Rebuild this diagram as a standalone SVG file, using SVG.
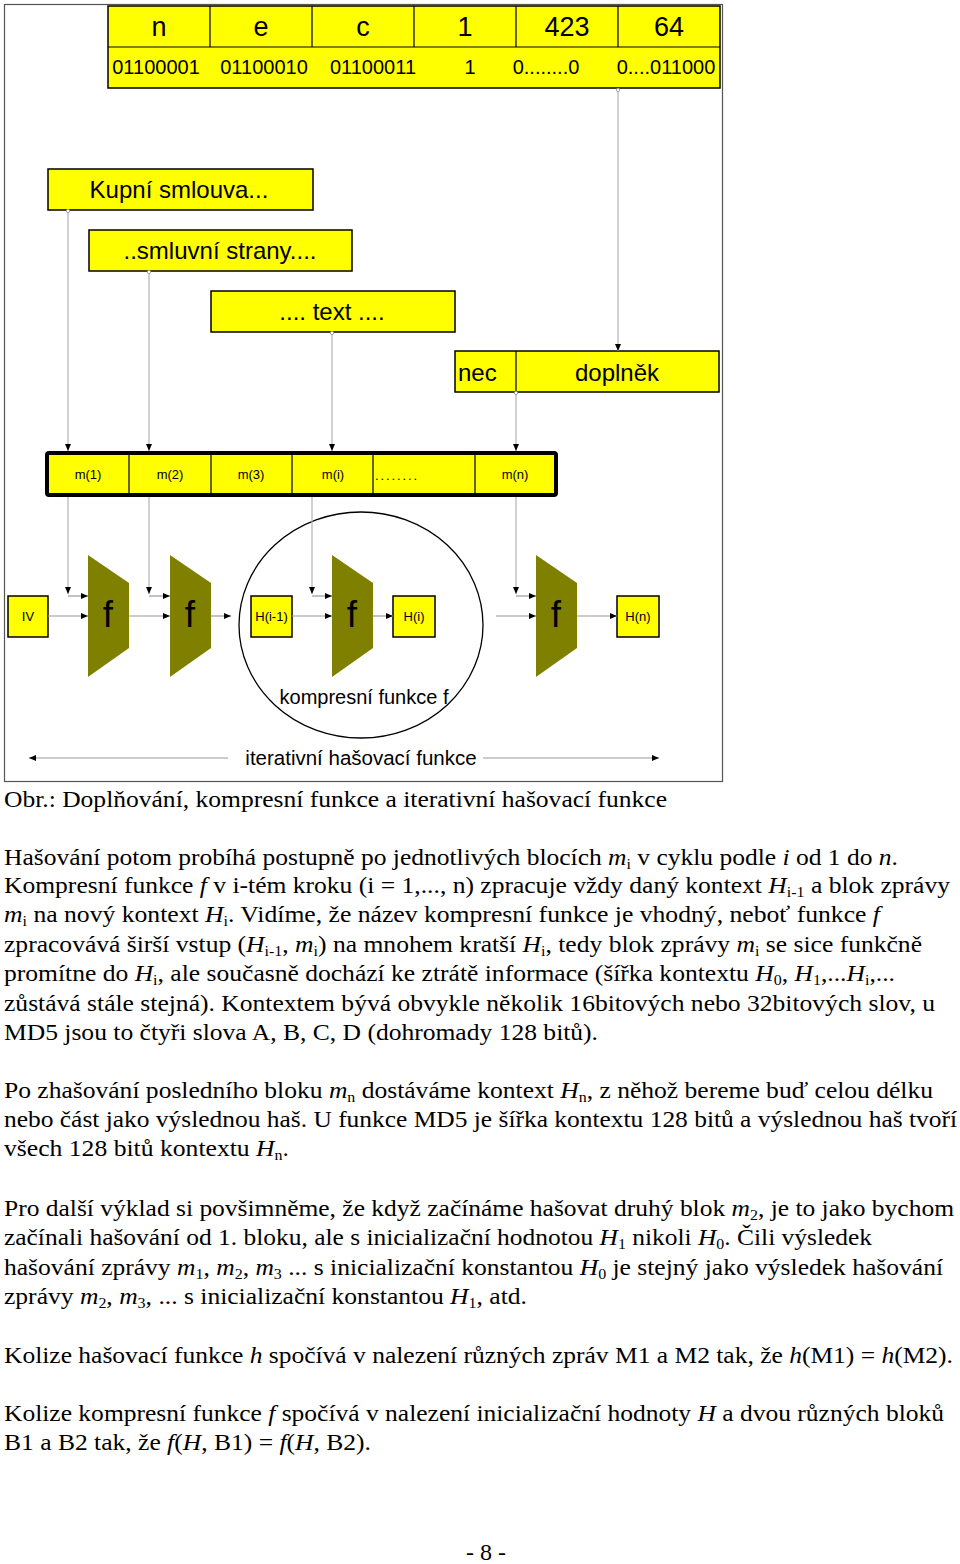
<svg xmlns="http://www.w3.org/2000/svg" width="960" height="1564" viewBox="0 0 960 1564">
<style>
.sans{font-family:"Liberation Sans",Arial,sans-serif;fill:#000}
.serif{font-family:"Liberation Serif","Times New Roman",serif;font-size:24px;fill:#000}
.i{font-style:italic}
.s{font-size:15px}
.box{fill:#ffff00;stroke:#000;stroke-width:1.5}
.div{stroke:#000;stroke-width:1.2}
.trap{fill:#808000}
.con{fill:none;stroke:#b3b3b3;stroke-width:1.2}
.flow{fill:none;stroke:#999;stroke-width:1.2}
.c24{font-size:24px}
.c13{font-size:13px}
.mid{text-anchor:middle}
</style>
<defs>
<marker id="ah" viewBox="0 0 7 6" refX="7" refY="3" markerWidth="7" markerHeight="6" markerUnits="userSpaceOnUse" orient="auto"><path d="M0,0 L7,3 L0,6 z" fill="#000"/></marker>
<marker id="dot" viewBox="0 0 6 6" refX="3" refY="3" markerWidth="5" markerHeight="5" markerUnits="userSpaceOnUse"><circle cx="3" cy="3" r="2" fill="#fff" stroke="#999" stroke-width="1"/></marker>
</defs>
<rect id="frame" x="4.5" y="4.5" width="718" height="777" fill="none" stroke="#555" stroke-width="1.2"/>

<g id="msg-table">
<rect class="box" x="108" y="6" width="612" height="82"/>
<line class="div" x1="108" y1="47" x2="720" y2="47"/>
<line class="div" x1="210" y1="6" x2="210" y2="47"/>
<line class="div" x1="312" y1="6" x2="312" y2="47"/>
<line class="div" x1="414" y1="6" x2="414" y2="47"/>
<line class="div" x1="516" y1="6" x2="516" y2="47"/>
<line class="div" x1="618" y1="6" x2="618" y2="47"/>
<g class="sans mid" font-size="27">
<text x="159" y="36">n</text><text x="261" y="36">e</text><text x="363" y="36">c</text><text x="465" y="36">1</text><text x="567" y="36">423</text><text x="669" y="36">64</text>
</g>
<g class="sans mid" font-size="20">
<text x="156" y="74">01100001</text><text x="264" y="74">01100010</text><text x="373" y="74">01100011</text><text x="470" y="74">1</text><text x="546" y="74">0........0</text><text x="666" y="74">0....011000</text>
</g>
</g>

<g id="kupni"><rect class="box" x="48" y="169" width="265" height="41"/><text class="sans c24 mid" x="179" y="198">Kupní smlouva...</text></g>
<g id="smluvni"><rect class="box" x="89" y="230" width="263" height="41"/><text class="sans c24 mid" x="220" y="259">..smluvní strany....</text></g>
<g id="text"><rect class="box" x="211" y="291" width="244" height="41"/><text class="sans c24 mid" x="332" y="320">.... text ....</text></g>
<g id="padding"><rect class="box" x="455" y="351" width="264" height="41"/><line class="div" x1="516" y1="351" x2="516" y2="392"/><text class="sans c24" x="458" y="381">nec</text><text class="sans c24 mid" x="617" y="381">doplněk</text></g>

<g id="blocks">
<rect x="47" y="453" width="509" height="42" fill="#ffff00" stroke="#000" stroke-width="4" rx="2"/>
<line class="div" x1="129" y1="455" x2="129" y2="493"/>
<line class="div" x1="211" y1="455" x2="211" y2="493"/>
<line class="div" x1="292" y1="455" x2="292" y2="493"/>
<line class="div" x1="373" y1="455" x2="373" y2="493"/>
<line class="div" x1="475" y1="455" x2="475" y2="493"/>
<g class="sans c13 mid">
<text x="88" y="479">m(1)</text><text x="170" y="479">m(2)</text><text x="251" y="479">m(3)</text><text x="333" y="479">m(i)</text><text x="515" y="479">m(n)</text>
</g>
<text class="sans c13" x="375" y="480" textLength="42" lengthAdjust="spacing">........</text>
</g>

<g id="iv"><rect class="box" x="8" y="596" width="40" height="41"/><text class="sans c13 mid" x="28" y="621">IV</text></g>
<g id="f1"><polygon class="trap" points="88,555 129,583 129,648 88,677"/><text class="sans mid" font-size="37" x="108" y="627">f</text></g>
<g id="f2"><polygon class="trap" points="170,555 211,583 211,648 170,677"/><text class="sans mid" font-size="37" x="190" y="627">f</text></g>
<g id="h-prev"><rect class="box" x="251" y="596" width="41" height="41"/><text class="sans c13 mid" x="271.5" y="621">H(i-1)</text></g>
<g id="f3"><polygon class="trap" points="332,555 373,583 373,648 332,677"/><text class="sans mid" font-size="37" x="352" y="627">f</text></g>
<g id="h-i"><rect class="box" x="393" y="596" width="42" height="41"/><text class="sans c13 mid" x="414" y="621">H(i)</text></g>
<g id="f4"><polygon class="trap" points="536,555 577,583 577,648 536,677"/><text class="sans mid" font-size="37" x="556" y="627">f</text></g>
<g id="h-n"><rect class="box" x="617" y="596" width="42" height="41"/><text class="sans c13 mid" x="638" y="621">H(n)</text></g>

<g id="compression">
<ellipse cx="361" cy="625" rx="122" ry="113" fill="none" stroke="#000" stroke-width="1.3"/>
<text class="sans mid" font-size="20" x="364" y="704">kompresní funkce f</text>
</g>

<g id="connectors">
<line class="con" x1="618" y1="90" x2="618" y2="351" marker-start="url(#dot)" marker-end="url(#ah)"/>
<line class="con" x1="68" y1="211" x2="68" y2="451" marker-start="url(#dot)" marker-end="url(#ah)"/>
<line class="con" x1="149" y1="272" x2="149" y2="451" marker-start="url(#dot)" marker-end="url(#ah)"/>
<line class="con" x1="332" y1="333" x2="332" y2="451" marker-start="url(#dot)" marker-end="url(#ah)"/>
<line class="con" x1="516" y1="393" x2="516" y2="451" marker-start="url(#dot)" marker-end="url(#ah)"/>
<line class="con" x1="68" y1="497" x2="68" y2="594" marker-end="url(#ah)"/>
<line class="con" x1="149" y1="497" x2="149" y2="594" marker-end="url(#ah)"/>
<line class="con" x1="312" y1="497" x2="312" y2="594" marker-end="url(#ah)"/>
<line class="con" x1="516" y1="497" x2="516" y2="594" marker-end="url(#ah)"/>
<line class="flow" x1="68" y1="596" x2="88" y2="596" marker-end="url(#ah)"/>
<line class="flow" x1="149" y1="596" x2="170" y2="596" marker-end="url(#ah)"/>
<line class="flow" x1="312" y1="596" x2="332" y2="596" marker-end="url(#ah)"/>
<line class="flow" x1="516" y1="596" x2="536" y2="596" marker-end="url(#ah)"/>
<line class="flow" x1="48" y1="616" x2="88" y2="616" marker-end="url(#ah)"/>
<line class="flow" x1="129" y1="616" x2="170" y2="616" marker-end="url(#ah)"/>
<line class="flow" x1="211" y1="616" x2="231" y2="616" marker-end="url(#ah)"/>
<line class="flow" x1="292" y1="616" x2="332" y2="616" marker-end="url(#ah)"/>
<line class="flow" x1="373" y1="616" x2="393" y2="616" marker-end="url(#ah)"/>
<line class="flow" x1="496" y1="616" x2="536" y2="616" marker-end="url(#ah)"/>
<line class="flow" x1="577" y1="616" x2="617" y2="616" marker-end="url(#ah)"/>
<line class="flow" x1="228" y1="758" x2="29" y2="758" marker-end="url(#ah)"/>
<line class="flow" x1="483" y1="758" x2="659" y2="758" marker-end="url(#ah)"/>
</g>
<text class="sans mid" font-size="20.5" x="361" y="765">iterativní hašovací funkce</text>

<g id="body" class="serif">
<text x="4" y="807" textLength="663" lengthAdjust="spacingAndGlyphs">Obr.: Doplňování, kompresní funkce a iterativní hašovací funkce</text>

<text x="4" y="865" textLength="894" lengthAdjust="spacingAndGlyphs">Hašování potom probíhá postupně po jednotlivých blocích <tspan class="i">m</tspan><tspan class="s" dy="4">i</tspan><tspan dy="-4"> v cyklu podle </tspan><tspan class="i">i</tspan> od 1 do <tspan class="i">n</tspan>.</text>
<text x="4" y="893" textLength="946" lengthAdjust="spacingAndGlyphs">Kompresní funkce <tspan class="i">f</tspan> v i-tém kroku (i = 1,..., n) zpracuje vždy daný kontext <tspan class="i">H</tspan><tspan class="s" dy="4">i-1</tspan><tspan dy="-4"> a blok zprávy</tspan></text>
<text x="4" y="922" textLength="876" lengthAdjust="spacingAndGlyphs"><tspan class="i">m</tspan><tspan class="s" dy="4">i</tspan><tspan dy="-4"> na nový kontext </tspan><tspan class="i">H</tspan><tspan class="s" dy="4">i</tspan><tspan dy="-4">. Vidíme, že název kompresní funkce je vhodný, neboť funkce </tspan><tspan class="i">f</tspan></text>
<text x="4" y="952" textLength="918" lengthAdjust="spacingAndGlyphs">zpracovává širší vstup (<tspan class="i">H</tspan><tspan class="s" dy="4">i-1</tspan><tspan dy="-4">, </tspan><tspan class="i">m</tspan><tspan class="s" dy="4">i</tspan><tspan dy="-4">) na mnohem kratší </tspan><tspan class="i">H</tspan><tspan class="s" dy="4">i</tspan><tspan dy="-4">, tedy blok zprávy </tspan><tspan class="i">m</tspan><tspan class="s" dy="4">i</tspan><tspan dy="-4"> se sice funkčně</tspan></text>
<text x="4" y="981" textLength="891" lengthAdjust="spacingAndGlyphs">promítne do <tspan class="i">H</tspan><tspan class="s" dy="4">i</tspan><tspan dy="-4">, ale současně dochází ke ztrátě informace (šířka kontextu </tspan><tspan class="i">H</tspan><tspan class="s" dy="4">0</tspan><tspan dy="-4">, </tspan><tspan class="i">H</tspan><tspan class="s" dy="4">1</tspan><tspan dy="-4">,...</tspan><tspan class="i">H</tspan><tspan class="s" dy="4">i</tspan><tspan dy="-4">,...</tspan></text>
<text x="4" y="1011" textLength="931" lengthAdjust="spacingAndGlyphs">zůstává stále stejná). Kontextem bývá obvykle několik 16bitových nebo 32bitových slov, u</text>
<text x="4" y="1040" textLength="594" lengthAdjust="spacingAndGlyphs">MD5 jsou to čtyři slova A, B, C, D (dohromady 128 bitů).</text>

<text x="4" y="1098" textLength="929" lengthAdjust="spacingAndGlyphs">Po zhašování posledního bloku <tspan class="i">m</tspan><tspan class="s" dy="4">n</tspan><tspan dy="-4"> dostáváme kontext </tspan><tspan class="i">H</tspan><tspan class="s" dy="4">n</tspan><tspan dy="-4">, z něhož bereme buď celou délku</tspan></text>
<text x="4" y="1127" textLength="953" lengthAdjust="spacingAndGlyphs">nebo část jako výslednou haš. U funkce MD5 je šířka kontextu 128 bitů a výslednou haš tvoří</text>
<text x="4" y="1156" textLength="285" lengthAdjust="spacingAndGlyphs">všech 128 bitů kontextu <tspan class="i">H</tspan><tspan class="s" dy="4">n</tspan><tspan dy="-4">.</tspan></text>

<text x="4" y="1216" textLength="950" lengthAdjust="spacingAndGlyphs">Pro další výklad si povšimněme, že když začínáme hašovat druhý blok <tspan class="i">m</tspan><tspan class="s" dy="4">2</tspan><tspan dy="-4">, je to jako bychom</tspan></text>
<text x="4" y="1245" textLength="868" lengthAdjust="spacingAndGlyphs">začínali hašování od 1. bloku, ale s inicializační hodnotou <tspan class="i">H</tspan><tspan class="s" dy="4">1</tspan><tspan dy="-4"> nikoli </tspan><tspan class="i">H</tspan><tspan class="s" dy="4">0</tspan><tspan dy="-4">. Čili výsledek</tspan></text>
<text x="4" y="1275" textLength="939" lengthAdjust="spacingAndGlyphs">hašování zprávy <tspan class="i">m</tspan><tspan class="s" dy="4">1</tspan><tspan dy="-4">, </tspan><tspan class="i">m</tspan><tspan class="s" dy="4">2</tspan><tspan dy="-4">, </tspan><tspan class="i">m</tspan><tspan class="s" dy="4">3</tspan><tspan dy="-4"> ... s inicializační konstantou </tspan><tspan class="i">H</tspan><tspan class="s" dy="4">0</tspan><tspan dy="-4"> je stejný jako výsledek hašování</tspan></text>
<text x="4" y="1304" textLength="523" lengthAdjust="spacingAndGlyphs">zprávy <tspan class="i">m</tspan><tspan class="s" dy="4">2</tspan><tspan dy="-4">, </tspan><tspan class="i">m</tspan><tspan class="s" dy="4">3</tspan><tspan dy="-4">, ... s inicializační konstantou </tspan><tspan class="i">H</tspan><tspan class="s" dy="4">1</tspan><tspan dy="-4">, atd.</tspan></text>

<text x="4" y="1363" textLength="949" lengthAdjust="spacingAndGlyphs">Kolize hašovací funkce <tspan class="i">h</tspan> spočívá v nalezení různých zpráv M1 a M2 tak, že <tspan class="i">h</tspan>(M1) = <tspan class="i">h</tspan>(M2).</text>

<text x="4" y="1421" textLength="940" lengthAdjust="spacingAndGlyphs">Kolize kompresní funkce <tspan class="i">f</tspan> spočívá v nalezení inicializační hodnoty <tspan class="i">H</tspan> a dvou různých bloků</text>
<text x="4" y="1450" textLength="367" lengthAdjust="spacingAndGlyphs">B1 a B2 tak, že <tspan class="i">f</tspan>(<tspan class="i">H</tspan>, B1) = <tspan class="i">f</tspan>(<tspan class="i">H</tspan>, B2).</text>

<text x="486" y="1560" text-anchor="middle">- 8 -</text>
</g>
</svg>
